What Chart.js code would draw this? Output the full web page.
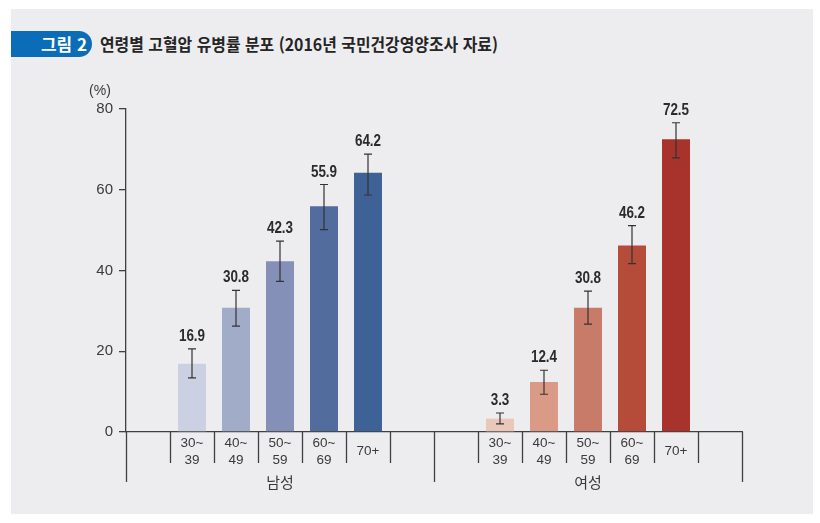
<!DOCTYPE html>
<html lang="ko">
<head>
<meta charset="utf-8">
<script src="https://cdn.jsdelivr.net/npm/chart.js@4"></script>
<style>
  html, body { margin: 0; padding: 0; background: #fff; }
  #wrap { position: relative; width: 820px; height: 523px; overflow: hidden; }
  #panel { position: absolute; left: 11px; top: 9px; width: 802px; height: 505px; background: #ededf0; }
  #badge {
    position: absolute; left: 11px; top: 31px; width: 81px; height: 26px;
    background: #0b6db7; border-radius: 0 13px 13px 0;
    color: #fff; font: bold 17px "Noto Sans CJK KR", sans-serif;
    line-height: 26px; text-align: right; box-sizing: border-box; padding-right: 5px;
  }
  #title {
    position: absolute; left: 100px; top: 31px; height: 26px; line-height: 26px;
    font: bold 17px "Noto Sans CJK KR", sans-serif; color: #252525;
    white-space: nowrap; transform: scaleX(0.935); transform-origin: left center;
  }
  canvas { position: absolute; left: 0; top: 0; }
</style>
</head>
<body>
<div id="wrap">
  <div id="panel"></div>
  <div id="badge">그림 2</div>
  <div id="title">연령별 고혈압 유병률 분포 (2016년 국민건강영양조사 자료)</div>
  <canvas id="chart" width="820" height="523"></canvas>
</div>
<script>
// 연령대, 성별 유병률 (%)
const ageGroups = ['30~39', '40~49', '50~59', '60~69', '70+'];
const groupNames = ['남성', '여성'];

const maleValues = [16.9, 30.8, 42.3, 55.9, 64.2];
const maleUpper = [20.6, 35.1, 47.3, 61.3, 68.8];
const maleLower = [13.4, 26.2, 37.3, 50.1, 58.7];

const femaleValues = [3.3, 12.4, 30.8, 46.2, 72.5];
const femaleUpper = [4.7, 15.3, 34.9, 51.1, 76.6];
const femaleLower = [2.0, 9.35, 26.7, 41.7, 67.9];

const yTicks = [0, 20, 40, 60, 80];

const maleColors = ['#cbd1e3', '#a1acc9', '#8490b8', '#526c9e', '#3f6296'];
const femaleColors = ['#e9c8ba', '#d99b86', '#c87b68', '#b44c39', '#a8332c'];

const FONT_NUM = '"Liberation Sans Narrow", "Liberation Sans", Arial, sans-serif';
const FONT_KR = '"Noto Sans CJK KR", sans-serif';
const INK = '#3a3a3a';

// 각 성별 그룹: 빈 칸 + 5개 연령대 + 빈 칸
function splitLabel(s) {
    const i = s.indexOf('~');
    return i < 0 ? s : [s.slice(0, i + 1), s.slice(i + 1)];
}
const labels = [], values = [], uppers = [], lowers = [], colors = [];
function addGroup(vals, up, lo, cols) {
    labels.push(''); values.push(null); uppers.push(null); lowers.push(null); colors.push('transparent');
    ageGroups.forEach((a, i) => {
        labels.push(splitLabel(a));
        values.push(vals[i]); uppers.push(up[i]); lowers.push(lo[i]); colors.push(cols[i]);
    });
    labels.push(''); values.push(null); uppers.push(null); lowers.push(null); colors.push('transparent');
}
addGroup(maleValues, maleUpper, maleLower, maleColors);
addGroup(femaleValues, femaleUpper, femaleLower, femaleColors);
const slotsPerGroup = ageGroups.length + 2;

const decor = {
    id: 'decor',
    afterDatasetsDraw(chart) {
        const ctx = chart.ctx;
        const ys = chart.scales.y;
        const meta = chart.getDatasetMeta(0);
        ctx.save();
        ctx.strokeStyle = '#333';
        ctx.lineWidth = 1.2;
        meta.data.forEach((bar, i) => {
            if (values[i] === null) return;
            const top = ys.getPixelForValue(uppers[i]);
            const bot = ys.getPixelForValue(lowers[i]);
            ctx.beginPath();
            ctx.moveTo(bar.x, top); ctx.lineTo(bar.x, bot);
            ctx.moveTo(bar.x - 4, top); ctx.lineTo(bar.x + 4, top);
            ctx.moveTo(bar.x - 4, bot); ctx.lineTo(bar.x + 4, bot);
            ctx.stroke();
            // 좁은 글꼴 느낌으로 가로만 줄여서 표시
            ctx.save();
            ctx.translate(bar.x, top - 8);
            ctx.scale(0.84, 1);
            ctx.fillStyle = '#2b2b2b';
            ctx.font = 'bold 16px ' + FONT_NUM;
            ctx.textAlign = 'center';
            ctx.textBaseline = 'alphabetic';
            ctx.fillText(values[i].toFixed(1), 0, 0);
            ctx.restore();
        });
        ctx.restore();
    },
    afterDraw(chart) {
        const ctx = chart.ctx;
        const xs = chart.scales.x, ys = chart.scales.y;
        const bottom = chart.chartArea.bottom;
        const slot = xs.getPixelForValue(1) - xs.getPixelForValue(0);
        ctx.save();
        ctx.strokeStyle = '#404040';
        ctx.lineWidth = 1.3;
        for (let i = 0; i <= labels.length; i++) {
            const bx = Math.round(xs.getPixelForValue(0) - slot / 2 + i * slot) + 0.5;
            const big = i % slotsPerGroup === 0;
            ctx.beginPath();
            ctx.moveTo(bx, bottom);
            ctx.lineTo(bx, bottom + (big ? 50 : 31));
            ctx.stroke();
        }
        ctx.fillStyle = INK;
        ctx.font = '15px ' + FONT_KR;
        ctx.textAlign = 'center';
        ctx.textBaseline = 'middle';
        groupNames.forEach((g, k) => {
            const x0 = xs.getPixelForValue(k * slotsPerGroup) - slot / 2;
            const cx = x0 + slot * slotsPerGroup / 2;
            ctx.fillText(g, cx, bottom + 50);
        });
        ctx.font = '14px "Liberation Sans", Arial, sans-serif';
        ctx.fillText('(%)', chart.chartArea.left - 26, ys.getPixelForValue(80) - 18);
        ctx.restore();
    }
};

new Chart(document.getElementById('chart'), {
    type: 'bar',
    data: {
        labels: labels,
        datasets: [{
            data: values,
            backgroundColor: colors,
            borderWidth: 0,
            barPercentage: 0.636,
            categoryPercentage: 1.0
        }]
    },
    options: {
        responsive: false,
        animation: false,
        layout: { padding: { top: 109, right: 78, bottom: 0, left: 0 } },
        plugins: {
            legend: { display: false },
            tooltip: { enabled: false }
        },
        scales: {
            x: {
                offset: true,
                grid: { drawOnChartArea: false, drawTicks: false },
                border: { display: true, color: '#404040', width: 1.3 },
                ticks: {
                    color: INK,
                    font: { family: FONT_NUM, size: 13.5, lineHeight: 1.3 },
                    padding: 11,
                    crossAlign: 'center',
                    maxRotation: 0,
                    autoSkip: false
                },
                afterFit(scale) { scale.height = 91; }
            },
            y: {
                min: 0,
                max: 80,
                afterBuildTicks(scale) { scale.ticks = yTicks.map(v => ({ value: v })); },
                grid: { drawOnChartArea: false, tickLength: 7, color: '#404040', lineWidth: 1.3 },
                border: { display: true, color: '#404040', width: 1.3 },
                ticks: {
                    color: INK,
                    font: { family: '"Liberation Sans", Arial, sans-serif', size: 15 },
                    padding: 6
                },
                afterFit(scale) { scale.width = 126; }
            }
        }
    },
    plugins: [decor]
});
</script>
</body>
</html>
